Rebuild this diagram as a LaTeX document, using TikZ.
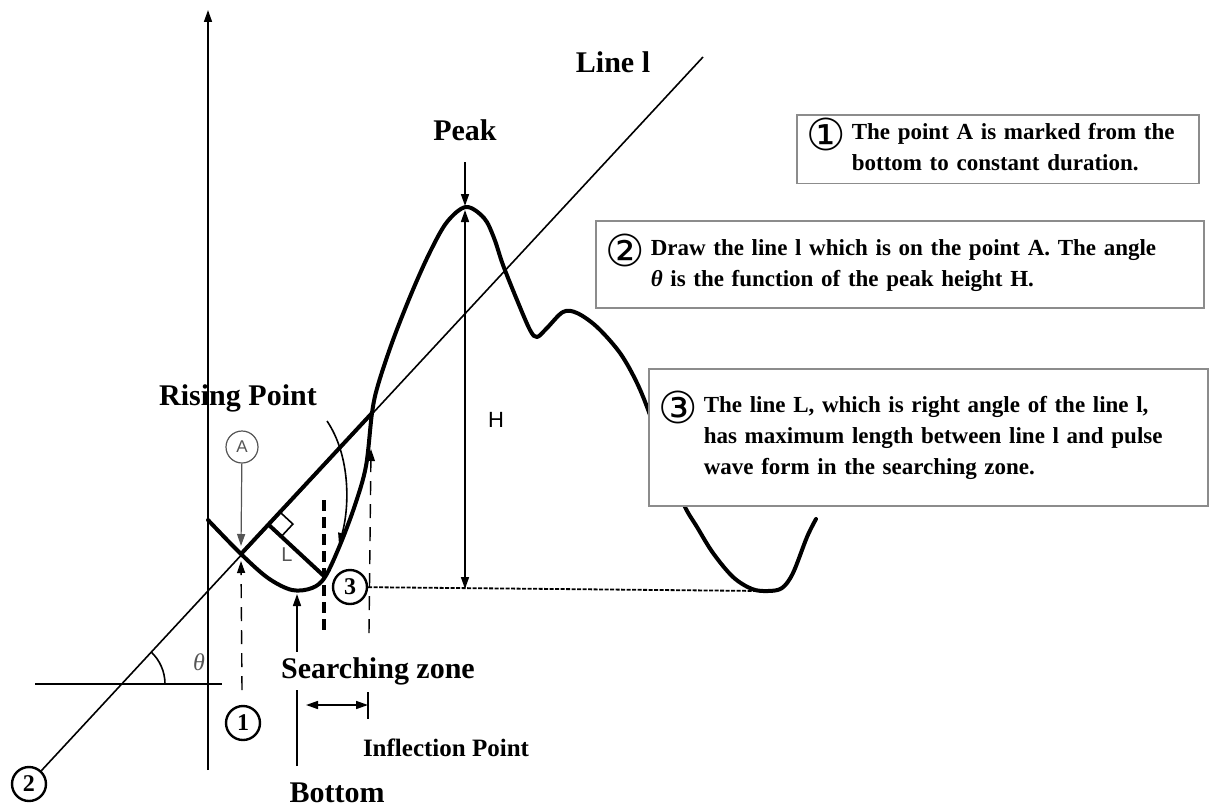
\documentclass[tikz,border=0pt]{standalone}
\usepackage{fontspec}
\setmainfont{Liberation Serif}
\setsansfont{Liberation Sans}
\newfontfamily\circfont{DejaVu Sans}
\usetikzlibrary{arrows.meta,calc,positioning}
\definecolor{boxgray}{HTML}{8C8C8C}
\definecolor{thingray}{HTML}{555555}
\newcommand{\cnum}[1]{\makebox[32pt]{\raisebox{-11pt}[0pt][0pt]{\circfont\mdseries\fontsize{44}{44}\selectfont #1}}}

\begin{document}
\begin{tikzpicture}[x=1pt,y=-1pt,>={Triangle[length=12pt,width=8pt]},
  lbl/.style={font=\fontsize{30}{32}\selectfont\bfseries},
  numc/.style={draw,circle,line width=2.4pt,inner sep=0pt,minimum size=34pt,font=\fontsize{24}{24}\selectfont\bfseries},
  note/.style={draw=boxgray,line width=1.6pt,fill=white,anchor=north west,align=left,inner xsep=13pt,font=\fontsize{23}{31}\selectfont\bfseries},
  wave/.style={line width=4pt,line join=round,line cap=round},
  thin/.style={line width=1.6pt},
  dsh/.style={line width=1.4pt,dash pattern=on 14pt off 9pt}]
  \useasboundingbox (0,0) rectangle (1209,808);
  \coordinate (ax0) at (208,770);
  \coordinate (ax1) at (208,10);
  \draw[thin,->] (ax0) -- (ax1);
  \coordinate (h0) at (35,684);
  \coordinate (h1) at (222,684);
  \draw[thin] (h0) -- (h1);
  \coordinate (l0) at (48,763);
  \coordinate (ltop) at (703,57);
  \node[numc] (n2) at (29,784) {2};
  \draw[thin] (n2) -- (ltop);
  \coordinate (V) at (121,684);
  \draw[thin] ($(V)+(44,0)$) arc[start angle=0,end angle=-47.2,radius=44];
  \node[text=thingray,font=\fontsize{24}{24}\selectfont\itshape] (th) at (199,662) {θ};
  \node[lbl] (ll) at (613,62) {Line l};
  \coordinate (A) at (241,554);
  \coordinate (R) at (372,413);
  \coordinate (P) at (325,577);
  \draw[wave] plot[smooth,tension=0.55] coordinates {(208,520) (A) (268,578) (292,590) (312,588) (P)
    (340,545) (355,505) (366,466) (R) (378,385) (393,340) (412,292) (430,252) (447,222) (466,207)
    (484,218) (494,238) (503,265) (517,300) (530,330) (537,337) (547,328) (563,312) (577,313)
    (597,327) (620,353) (637,383) (650,415) (665,460) (684,505) (697,527) (713,553) (733,577)
    (752,589) (768,591) (782,588) (793,573) (807,537) (816,519)};
  \draw[line width=4pt] (A) -- (R);
  \coordinate (F) at ($(l0)!(P)!(ltop)$);
  \draw[line width=4pt] (F) -- (P);
  \coordinate (q1) at ($(F)!17pt!(ltop)$);
  \coordinate (q3) at ($(F)!17pt!(P)$);
  \coordinate (q2) at ($(q1)+(q3)-(F)$);
  \draw[thin] (q1) -- (q2) -- (q3);
  \node[text=thingray,font=\sffamily\fontsize{20}{20}\selectfont] (Llab) at (287,555) {L};
  \node[draw=thingray,circle,line width=1.2pt,minimum size=32pt,inner sep=0pt,text=thingray,
    font=\sffamily\fontsize{17}{17}\selectfont] (Acirc) at (242,447) {A};
  \coordinate (Aup) at (241,546);
  \draw[thingray,line width=1.2pt,->] (Acirc) -- (Aup);
  \node[numc] (n1) at (243,723) {1};
  \coordinate (d1) at (242,690);
  \coordinate (Adn) at (241,561);
  \draw[dsh,->] (d1) -- (Adn);
  \node[numc] (n3) at (350,587) {3};
  \coordinate (m2) at (762,591);
  \draw[line width=1.8pt,dash pattern=on 4pt off 1.5pt] (n3) -- (m2);
  \coordinate (t0) at (324,500);
  \coordinate (t1) at (324,636);
  \draw[line width=4pt,dash pattern=on 11pt off 6pt] (t0) -- (t1);
  \coordinate (i0) at (369,633);
  \coordinate (i1) at (371,449);
  \draw[dsh,->] (i0) -- (i1);
  \node[lbl] (bot) at (337,793) {Bottom};
  \coordinate (b0) at (297,766);
  \coordinate (b1) at (297,594);
  \draw[thin,->] (b0) -- (b1);
  \node[lbl,fill=white,inner xsep=2pt,inner ysep=5pt] (sz) at (378,671) {Searching zone};
  \coordinate (k0) at (368,692);
  \coordinate (k1) at (368,719);
  \draw[thin] (k0) -- (k1);
  \coordinate (s0) at (306,705);
  \coordinate (s1) at (368,705);
  \draw[thin,<->] (s0) -- (s1);
  \node[font=\fontsize{25}{25}\selectfont\bfseries] (inf) at (446,748) {Inflection Point};
  \node[lbl] (rp) at (238,398) {Rising Point};
  \coordinate (r0) at (327,421);
  \coordinate (r1) at (339,545);
  \draw[thin,->] (r0) .. controls (350,455) and (350,505) .. (r1);
  \node[lbl] (pk) at (465,130) {Peak};
  \coordinate (p0) at (465,162);
  \coordinate (Pk) at (465,206);
  \draw[thin,->] (p0) -- (Pk);
  \coordinate (Ht) at (465,210);
  \coordinate (Hb) at (465,589);
  \draw[thin,<->] (Ht) -- (Hb);
  \node[font=\sffamily\fontsize{22}{22}\selectfont] (Hl) at (496,420) {H};
  \node[note,text width=376pt,minimum height=68pt] (box1) at (796,114) {\begin{tabular}{@{}l@{\hspace{10pt}}l@{}}
    \cnum{①} & The point A is marked from the\\ & bottom to constant duration.\end{tabular}};
  \node[note,text width=582pt,minimum height=87pt] (box2) at (595,220) {\begin{tabular}{@{}l@{\hspace{10pt}}l@{}}
    \cnum{②} & Draw the line l which is on the point A. The angle\\ & \textit{θ} is the function of the peak height H.\end{tabular}};
  \node[note,text width=533pt,minimum height=137pt] (box3) at (648,368) {\begin{tabular}{@{}l@{\hspace{10pt}}l@{}}
    \cnum{③} & The line L, which is right angle of the line l,\\ & has maximum length between line l and pulse\\ & wave form in the searching zone.\end{tabular}};
\end{tikzpicture}
\end{document}
